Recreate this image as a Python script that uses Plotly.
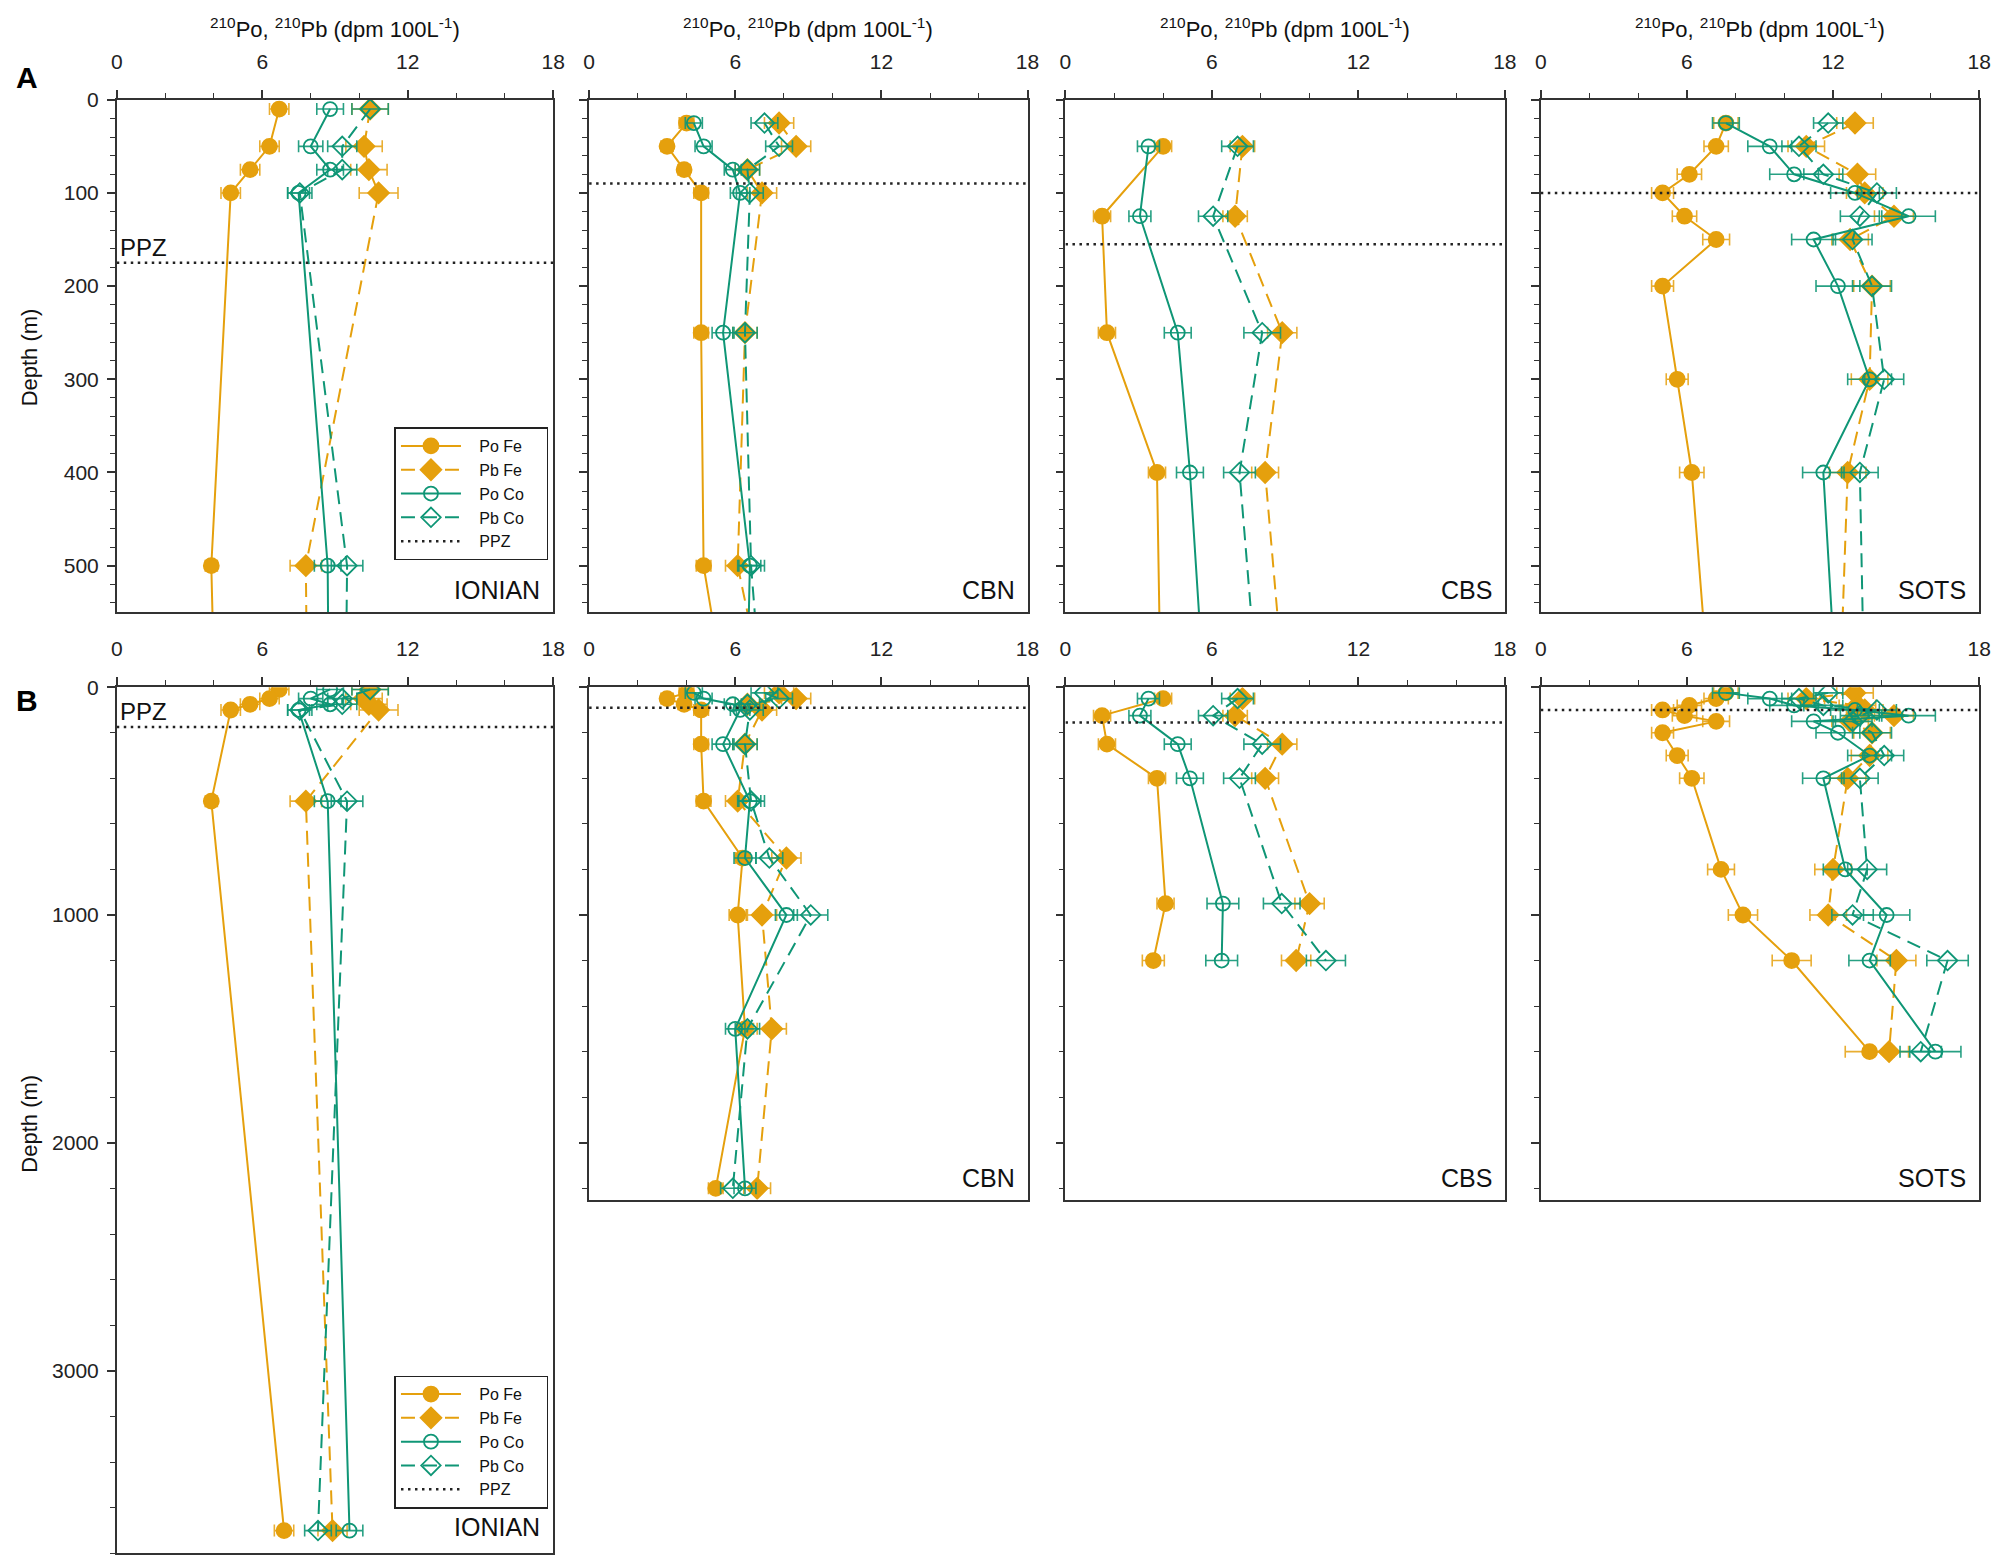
import plotly.graph_objects as go

# ---------------- data ----------------
stations = ["IONIAN", "CBN", "CBS", "SOTS"]
ppz_depth = [175, 90, 155, 100]
x_range = [0, 18]

ionian_depth = [10, 50, 75, 100, 500, 3700]
ionian_po_fe = [6.7, 6.3, 5.5, 4.7, 3.9, 6.9]
ionian_pb_fe = [10.45, 10.2, 10.4, 10.8, 7.8, 8.9]
ionian_po_co = [8.8, 8.0, 8.8, 7.5, 8.7, 9.6]
ionian_pb_co = [10.45, 9.3, 9.3, 7.55, 9.5, 8.3]
ionian_po_fe_err = [0.4, 0.4, 0.4, 0.4, 0.25, 0.4]
ionian_pb_fe_err = [0.75, 0.75, 0.75, 0.8, 0.65, 0.6]
ionian_po_co_err = [0.55, 0.5, 0.55, 0.45, 0.55, 0.55]
ionian_pb_co_err = [0.75, 0.6, 0.6, 0.5, 0.65, 0.55]

cbn_depth = [25, 50, 75, 100, 250, 500, 750, 1000, 1500, 2200]
cbn_po_fe = [4.0, 3.2, 3.9, 4.6, 4.6, 4.7, 6.3, 6.1, 6.4, 5.2]
cbn_pb_fe = [7.8, 8.5, 6.5, 7.1, 6.4, 6.1, 8.1, 7.1, 7.5, 6.9]
cbn_po_co = [4.3, 4.7, 5.9, 6.2, 5.5, 6.6, 6.4, 8.1, 6.0, 6.4]
cbn_pb_co = [7.2, 7.8, 6.5, 6.6, 6.4, 6.65, 7.4, 9.1, 6.5, 5.9]
cbn_po_fe_err = [0.3, 0.25, 0.25, 0.3, 0.3, 0.3, 0.3, 0.35, 0.35, 0.3]
cbn_pb_fe_err = [0.6, 0.6, 0.5, 0.6, 0.5, 0.5, 0.6, 0.6, 0.6, 0.55]
cbn_po_co_err = [0.35, 0.35, 0.35, 0.4, 0.45, 0.45, 0.45, 0.45, 0.4, 0.45]
cbn_pb_co_err = [0.55, 0.55, 0.5, 0.55, 0.5, 0.55, 0.55, 0.7, 0.5, 0.5]

cbs_depth = [50, 125, 250, 400, 950, 1200]
cbs_po_fe = [4.0, 1.5, 1.7, 3.75, 4.1, 3.6]
cbs_pb_fe = [7.25, 6.95, 8.88, 8.18, 10.0, 9.45]
cbs_po_co = [3.4, 3.05, 4.6, 5.1, 6.45, 6.4]
cbs_pb_co = [7.05, 6.05, 8.06, 7.13, 8.86, 10.67]
cbs_po_fe_err = [0.35, 0.35, 0.35, 0.35, 0.35, 0.45]
cbs_pb_fe_err = [0.5, 0.5, 0.6, 0.55, 0.6, 0.6]
cbs_po_co_err = [0.45, 0.45, 0.55, 0.55, 0.65, 0.65]
cbs_pb_co_err = [0.65, 0.6, 0.75, 0.65, 0.75, 0.8]

sots_depth = [25, 50, 80, 100, 125, 150, 200, 300, 400, 800, 1000, 1200, 1600]
sots_po_fe = [7.6, 7.2, 6.1, 5.0, 5.9, 7.2, 5.0, 5.6, 6.2, 7.4, 8.3, 10.3, 13.5]
sots_pb_fe = [12.9, 10.9, 13.0, 13.3, 14.5, 12.7, 13.6, 13.5, 12.6, 12.0, 11.8, 14.6, 14.3]
sots_po_co = [7.6, 9.4, 10.4, 12.9, 15.1, 11.2, 12.2, 13.5, 11.6, 12.5, 14.2, 13.5, 16.2]
sots_pb_co = [11.8, 10.6, 11.6, 13.8, 13.1, 12.8, 13.6, 14.1, 13.1, 13.4, 12.8, 16.7, 15.6]
sots_po_fe_err = [0.5, 0.5, 0.5, 0.45, 0.5, 0.55, 0.45, 0.45, 0.5, 0.55, 0.6, 0.8, 1.0]
sots_pb_fe_err = [0.75, 0.75, 0.75, 0.75, 0.8, 0.75, 0.75, 0.75, 0.75, 0.75, 0.75, 0.8, 0.8]
sots_po_co_err = [0.55, 0.9, 1.0, 1.0, 1.1, 0.9, 0.9, 0.9, 0.85, 0.9, 0.95, 0.85, 1.05]
sots_pb_co_err = [0.6, 0.7, 0.8, 0.8, 0.8, 0.8, 0.8, 0.8, 0.75, 0.8, 0.85, 0.85, 0.85]

series_names = ["Po Fe", "Pb Fe", "Po Co", "Pb Co"]
ppz_name = "PPZ"

station_data = [
    (ionian_depth, [(ionian_po_fe, ionian_po_fe_err), (ionian_pb_fe, ionian_pb_fe_err),
                    (ionian_po_co, ionian_po_co_err), (ionian_pb_co, ionian_pb_co_err)]),
    (cbn_depth, [(cbn_po_fe, cbn_po_fe_err), (cbn_pb_fe, cbn_pb_fe_err),
                 (cbn_po_co, cbn_po_co_err), (cbn_pb_co, cbn_pb_co_err)]),
    (cbs_depth, [(cbs_po_fe, cbs_po_fe_err), (cbs_pb_fe, cbs_pb_fe_err),
                 (cbs_po_co, cbs_po_co_err), (cbs_pb_co, cbs_pb_co_err)]),
    (sots_depth, [(sots_po_fe, sots_po_fe_err), (sots_pb_fe, sots_pb_fe_err),
                  (sots_po_co, sots_po_co_err), (sots_pb_co, sots_pb_co_err)]),
]

# ---------------- styles ----------------
GOLD = "#E5A00D"
GREEN = "#0F9676"
GOLD_ERR = "rgba(229,160,13,0.85)"
GREEN_ERR = "rgba(15,150,118,0.9)"
FONT = "Liberation Sans, Arial, sans-serif"
AX = "#333333"
NBSP = "\u00a0"

styles = [
    dict(color=GOLD, err=GOLD_ERR, dash="solid", symbol="circle", size=15),
    dict(color=GOLD, err=GOLD_ERR, dash="14px,8px", symbol="diamond", size=16),
    dict(color=GREEN, err=GREEN_ERR, dash="solid", symbol="circle-open", size=14),
    dict(color=GREEN, err=GREEN_ERR, dash="14px,8px", symbol="diamond-open", size=15),
]

W, H = 2000, 1561


def px_x(x):
    # placement correction measured from the rendered page
    return 1.0077 * x - 12.2


def px_y(y):
    return 1.0068 * y - 17.3


def leg_label(name):
    return NBSP * 3 + name + NBSP * 4


col_px = [(115, 552), (588, 1027), (1065, 1505), (1541, 1980)]
rowA_px = (97, 610)
rowB_px = [(685, 1552), (685, 1198), (685, 1198), (685, 1198)]
rowA_range = [550, 0]
rowB_ranges = [[3800, 0], [2250, 0], [2250, 0], [2250, 0]]

fig = go.Figure()
layout = {}


def xdom(px):
    return [max(0, px_x(px[0]) / W), min(1, px_x(px[1]) / W)]


def ydom(px):
    return [max(0, 1 - px_y(px[1]) / H), min(1, 1 - px_y(px[0]) / H)]


panel = 0
for row in range(2):
    for col in range(4):
        panel += 1
        xn = "x" if panel == 1 else f"x{panel}"
        yn = "y" if panel == 1 else f"y{panel}"
        if row == 0:
            yp, yr, dt, mdt = rowA_px, rowA_range, 100, 20
        else:
            yp, yr, dt, mdt = rowB_px[col], rowB_ranges[col], 1000, 200
        common = dict(
            showline=True, linecolor=AX, linewidth=1.6, mirror=True,
            showgrid=False, zeroline=False,
            ticks="outside", ticklen=8, tickwidth=1.5, tickcolor=AX,
            tickfont=dict(size=21, family=FONT, color="#222"),
        )
        layout["xaxis" if panel == 1 else f"xaxis{panel}"] = dict(
            domain=xdom(col_px[col]), range=x_range, side="top",
            anchor=yn, tick0=0, dtick=6,
            minor=dict(dtick=2, ticks="outside", ticklen=5, tickwidth=1.3, tickcolor=AX, showgrid=False),
            ticklabelstandoff=13, **common)
        layout["yaxis" if panel == 1 else f"yaxis{panel}"] = dict(
            domain=ydom(yp), range=yr, anchor=xn, tick0=0, dtick=dt,
            minor=dict(dtick=mdt, ticks="outside", ticklen=5, tickwidth=1.3, tickcolor=AX, showgrid=False),
            showticklabels=(col == 0), ticklabelstandoff=4, **common)

        depth, series = station_data[col]
        legend_name = "legend" if row == 0 else "legend2"
        show_leg = (col == 0)
        for (vals, errs), name, st in zip(series, series_names, styles):
            fig.add_trace(go.Scatter(
                x=vals, y=depth, mode="lines+markers", name=leg_label(name),
                xaxis=xn, yaxis=yn,
                line=dict(color=st["color"], width=2, dash=st["dash"]),
                marker=dict(symbol=st["symbol"], size=st["size"], color=st["color"],
                            line=dict(color=st["color"], width=1.8)),
                error_x=dict(type="data", array=errs, visible=True, color=st["err"],
                             thickness=1.6, width=6),
                legend=legend_name, showlegend=show_leg,
            ))
        fig.add_trace(go.Scatter(
            x=x_range, y=[ppz_depth[col]] * 2, mode="lines", name=leg_label(ppz_name),
            xaxis=xn, yaxis=yn,
            line=dict(color="#222", width=2.5, dash="2.5px,4.5px"),
            legend=legend_name, showlegend=show_leg,
        ))
        fig.add_annotation(text=stations[col], xref=f"{xn} domain", yref=f"{yn} domain",
                           x=0.975, y=0.012, xanchor="right", yanchor="bottom",
                           showarrow=False, font=dict(size=25, family=FONT, color="#111"))
        if col == 0:
            fig.add_annotation(text="PPZ", xref=xn, yref=yn, x=0.05, y=ppz_depth[col],
                               xanchor="left", yanchor="bottom", showarrow=False,
                               font=dict(size=24, family=FONT, color="#111"))

# column titles
for col in range(4):
    cx = (px_x(col_px[col][0]) + px_x(col_px[col][1])) / 2 / W
    fig.add_annotation(text="<sup>210</sup>Po, <sup>210</sup>Pb (dpm 100L<sup>-1</sup>)",
                       xref="paper", yref="paper", x=cx, y=1 - px_y(25) / H,
                       xanchor="center", yanchor="middle", showarrow=False,
                       font=dict(size=22, family=FONT, color="#111"))

# panel letters
for letter, ypx in [("A", 75), ("B", 698)]:
    fig.add_annotation(text=f"<b>{letter}</b>", xref="paper", yref="paper",
                       x=0, y=1 - px_y(ypx) / H, xanchor="left", yanchor="middle",
                       showarrow=False, font=dict(size=30, family=FONT, color="#000"))

# depth titles
for ypx in [355, 1122]:
    fig.add_annotation(text="Depth (m)", xref="paper", yref="paper",
                       x=max(12, px_x(28)) / W, y=1 - px_y(ypx) / H, xanchor="center", yanchor="middle",
                       textangle=-90, showarrow=False,
                       font=dict(size=22, family=FONT, color="#111"))

leg_common = dict(bgcolor="white", bordercolor="#222", borderwidth=1.6,
                  font=dict(size=16, family=FONT, color="#111"),
                  itemwidth=60, xanchor="left", yanchor="top", traceorder="normal",
                  tracegroupgap=0)
layout["legend"] = dict(x=px_x(393) / W, y=1 - px_y(425) / H, **leg_common)
layout["legend2"] = dict(x=px_x(393) / W, y=1 - px_y(1374) / H, **leg_common)

fig.update_layout(
    width=W, height=H, margin=dict(l=0, r=0, t=0, b=0),
    paper_bgcolor="white", plot_bgcolor="white",
    font=dict(family=FONT, color="#111"),
    **layout,
)

fig.write_html("out.html")
